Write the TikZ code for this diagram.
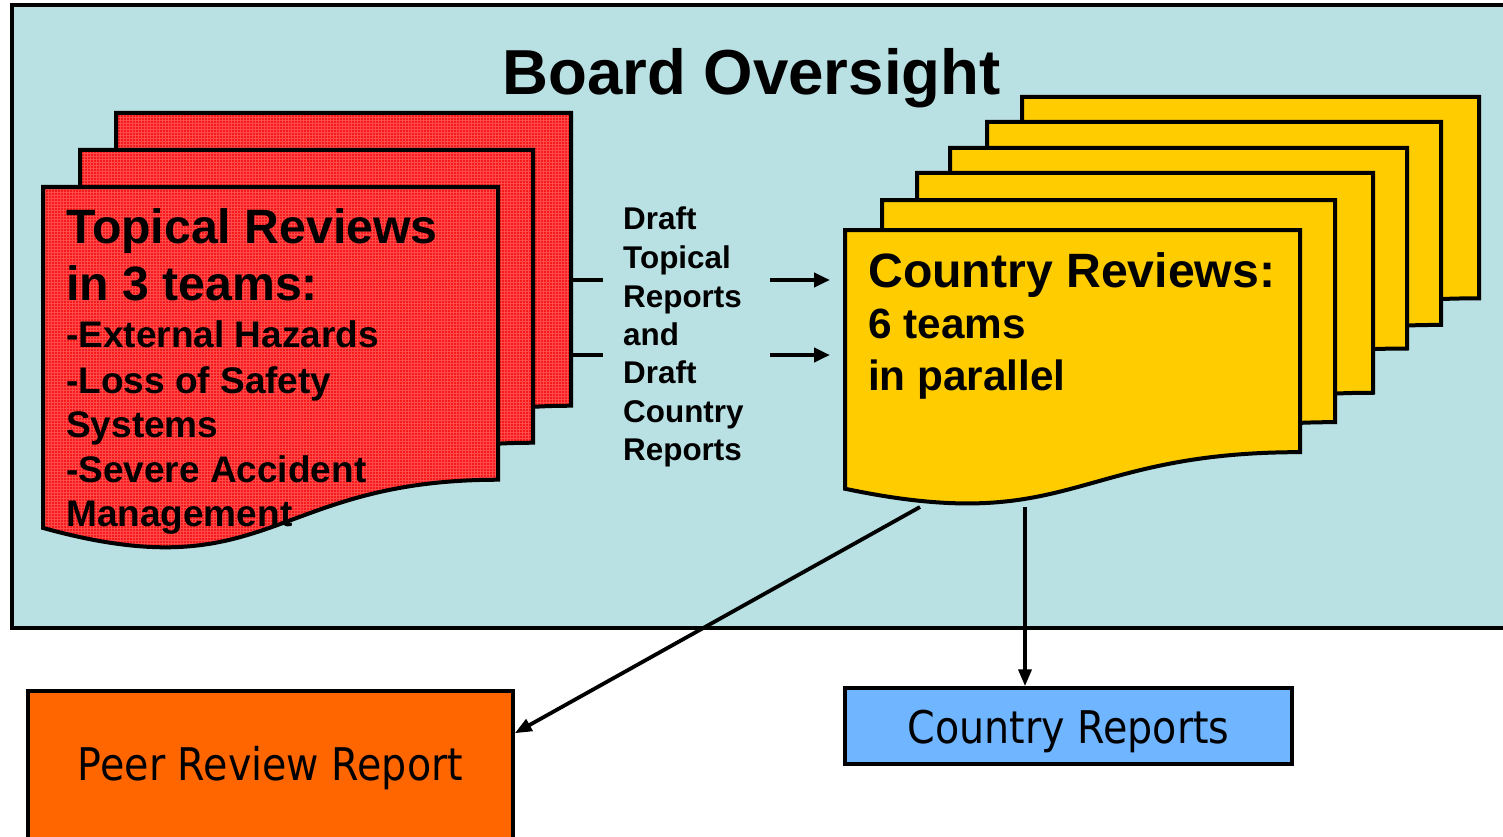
\documentclass[tikz,border=0pt]{standalone}
\usepackage{fontspec}
\setmainfont{Liberation Sans}
\newfontfamily\boxfont[FakeStretch=0.88]{DejaVu Sans}
\usetikzlibrary{patterns,arrows.meta}
\definecolor{bgblue}{RGB}{185,224,227}
\definecolor{redbase}{RGB}{245,25,25}
\definecolor{redgrid}{RGB}{255,75,75}
\definecolor{docyellow}{RGB}{255,204,0}
\definecolor{prorange}{RGB}{255,102,0}
\definecolor{crblue}{RGB}{111,181,255}
\newcommand\drawdoc[5]{%
  \draw[#1] (#2,#3) -- (#4,#3) -- (#4,{#3+0.802*#5})
    .. controls ({(#2+#4)/2},{#3+0.802*#5}) and ({(#2+#4)/2},{#3+1.107*#5}) ..
    (#2,{#3+0.934*#5}) -- cycle;}
\begin{document}
\begin{tikzpicture}[x=1pt,y=-1pt,
  reddoc/.style={draw=black,line width=4pt,line join=miter,preaction={fill=redbase},pattern=grid,pattern color=redgrid},
  yeldoc/.style={draw=black,line width=4pt,line join=miter,fill=docyellow},
  bigtxt/.style={anchor=base west,inner sep=0pt,font=\bfseries\fontsize{48.2}{48.2}\selectfont},
  listtxt/.style={anchor=base west,inner sep=0pt,font=\bfseries\fontsize{37}{37}\selectfont},
  midtxt/.style={anchor=base west,inner sep=0pt,font=\bfseries\fontsize{31.4}{31.4}\selectfont},
  subtxt/.style={anchor=base west,inner sep=0pt,font=\bfseries\fontsize{42.3}{42.3}\selectfont},
  outbox/.style={draw=black,line width=3.5pt,inner sep=0pt,font=\boxfont\fontsize{45}{45}\selectfont},
  conn/.style={line width=3.8pt,-{Triangle[length=17pt,width=13pt]}},
  thickconn/.style={line width=4pt,-{Triangle[length=16pt,width=14pt]}},
  stub/.style={line width=4pt}]
\useasboundingbox (0,0) rectangle (1503,837);
\begin{scope}
\clip (0,0) rectangle (1503,837);
% outer board box
\draw[line width=4pt,fill=bgblue] (12,5) rectangle (1520,628);
\node[anchor=base,inner sep=0pt,font=\bfseries\fontsize{63.6}{63.6}\selectfont] (title) at (751.5,95) {Board Oversight};
% red documents
\drawdoc{reddoc}{116}{113}{571}{365}
\drawdoc{reddoc}{80}{150}{533}{365}
\drawdoc{reddoc}{43}{187}{498}{365}
% yellow documents
\drawdoc{yeldoc}{1022}{97}{1479}{251}
\drawdoc{yeldoc}{987}{122}{1441}{253}
\drawdoc{yeldoc}{950}{148}{1407}{250}
\drawdoc{yeldoc}{917}{173}{1373}{274}
\drawdoc{yeldoc}{882}{200}{1335}{277}
\drawdoc{yeldoc}{845}{230}{1300}{277}
% red texts
\node[bigtxt] (rt1) at (66,243) {Topical Reviews};
\node[bigtxt] (rt2) at (66,300) {in 3 teams:};
\node[listtxt] (rl1) at (66,347) {-External Hazards};
\node[listtxt] (rl2) at (66,393) {-Loss of Safety};
\node[listtxt] (rl3) at (66,437) {Systems};
\node[listtxt] (rl4) at (66,482) {-Severe Accident};
\node[listtxt] (rl5) at (66,526) {Management};
% yellow texts
\node[bigtxt] (yt1) at (868,287) {Country Reviews:};
\node[subtxt] (yt2) at (868,338) {6 teams};
\node[subtxt] (yt3) at (868,390) {in parallel};
% middle texts
\node[midtxt] (m1) at (623,229) {Draft};
\node[midtxt] (m2) at (623,268) {Topical};
\node[midtxt] (m3) at (623,307) {Reports};
\node[midtxt] (m4) at (623,345) {and};
\node[midtxt] (m5) at (623,383) {Draft};
\node[midtxt] (m6) at (623,422) {Country};
\node[midtxt] (m7) at (623,460) {Reports};
% stubs and arrows
\coordinate (s1a) at (571,280); \coordinate (s1b) at (603,280);
\coordinate (s2a) at (571,355); \coordinate (s2b) at (603,355);
\coordinate (a1a) at (770,280); \coordinate (a1b) at (830,280);
\coordinate (a2a) at (770,355); \coordinate (a2b) at (830,355);
\draw[stub] (s1a) -- (s1b);
\draw[stub] (s2a) -- (s2b);
\draw[thickconn] (a1a) -- (a1b);
\draw[thickconn] (a2a) -- (a2b);
% output boxes
\node[outbox,fill=prorange,minimum width=485pt,minimum height=154pt] (prr) at (270.5,768) {Peer Review Report};
\node[outbox,fill=crblue,minimum width=447pt,minimum height=76pt,text height=40pt,text depth=5pt] (crb) at (1068.5,726) {Country Reports};
\coordinate (cro1) at (920,507);
\coordinate (cro2) at (1025,507);
\coordinate (prrin) at ([yshift=-44pt]prr.north east);
\draw[conn] (cro1) -- (prrin);
\draw[conn] (cro2) -- (crb.north -| cro2);
\end{scope}
\end{tikzpicture}
\end{document}
